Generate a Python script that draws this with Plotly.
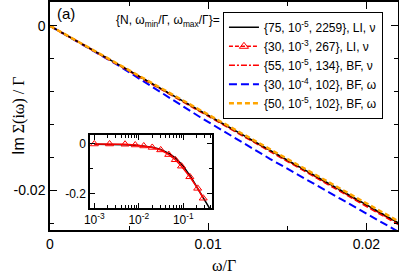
import plotly.graph_objects as go

# ---------------- data ----------------
omega = [0, 0.003, 0.0044, 0.0095, 0.0139, 0.0184, 0.0221]
im_li75 = [0, -0.00326, -0.00478, -0.01032, -0.01511, -0.02000, -0.02400]
im_li30 = [0, -0.00328, -0.00485, -0.01045, -0.01528, -0.02018, -0.02420]
im_bf55 = [0, -0.00327, -0.00482, -0.01040, -0.01522, -0.02010, -0.02412]
im_bf30 = [0, -0.00327, -0.00490, -0.01110, -0.01615, -0.02105, -0.02510]
im_bf50 = [0, -0.00324, -0.00472, -0.01020, -0.01497, -0.01982, -0.02382]

inset_w_line = [0.001, 0.002, 0.005, 0.01, 0.02, 0.03, 0.05, 0.07, 0.1, 0.15, 0.2, 0.3, 0.45]
inset_li75 = [-0.001, -0.001, -0.003, -0.006, -0.013, -0.021, -0.040, -0.060, -0.090, -0.136, -0.172, -0.224, -0.280]
inset_w_tri = [0.001, 0.0022, 0.0049, 0.0083, 0.0129, 0.020, 0.031, 0.047, 0.066, 0.091, 0.14, 0.21, 0.28]
inset_li30 = [0.0, 0.0, -0.001, -0.004, -0.008, -0.014, -0.024, -0.043, -0.064, -0.090, -0.133, -0.180, -0.220]

legend_labels = [
    "{75, 10<sup>-5</sup>, 2259}, LI, ν",
    "{30, 10<sup>-3</sup>, 267}, LI, ν",
    "{55, 10<sup>-5</sup>, 134}, BF, ν",
    "{30, 10<sup>-4</sup>, 102}, BF, ω",
    "{50, 10<sup>-5</sup>, 102}, BF, ω",
]

x_ticks = [0, 0.01, 0.02]
x_ticktext = ["0", "0.01", "0.02"]
y_ticks = [0, -0.02]
y_ticktext = ["0", "-0.02"]
ix_ticks = [1e-3, 1e-2, 1e-1]
ix_ticktext = ["10<sup>-3</sup>", "10<sup>-2</sup>", "10<sup>-1</sup>"]
ix_minor = [m * 10.0 ** e for e in (-3, -2, -1) for m in range(2, 10) if m * 10.0 ** e < 0.5]
iy_ticks = [0, -0.2]
iy_ticktext = ["0", "-0.2"]

BLACK = "#000000"
RED = "#FF0000"
BLUE = "#0000FF"
ORANGE = "#FFA500"
SANS = "Liberation Sans, Arial, sans-serif"
SERIF = "Liberation Serif, Times New Roman, serif"

fig = go.Figure()

# main panel
fig.add_trace(go.Scatter(x=omega, y=im_bf30, mode="lines", line=dict(color=BLUE, width=2, dash="8px,4px"),
                         name=legend_labels[3], legendrank=4))
fig.add_trace(go.Scatter(x=omega, y=im_li30, mode="lines", line=dict(color=RED, width=2, dash="6px,3px"),
                         showlegend=False))
fig.add_trace(go.Scatter(x=omega, y=im_bf55, mode="lines", line=dict(color=RED, width=1.5, dash="6px,2px,2px,2px"),
                         name=legend_labels[2], legendrank=3))
fig.add_trace(go.Scatter(x=omega, y=im_li75, mode="lines", line=dict(color=BLACK, width=1.5),
                         name=legend_labels[0], legendrank=1))
fig.add_trace(go.Scatter(x=omega, y=im_bf50, mode="lines", line=dict(color=ORANGE, width=2.5, dash="5px,3px"),
                         name=legend_labels[4], legendrank=5))
# legend entry for the LI 30 curve (line + open triangles)
fig.add_trace(go.Scatter(x=[None], y=[None], mode="lines+markers",
                         line=dict(color=RED, width=1.5, dash="4px,2px"),
                         marker=dict(symbol="triangle-up-open", size=8, color=RED, line=dict(width=1)),
                         name=legend_labels[1], legendrank=2))

# inset
fig.add_trace(go.Scatter(x=inset_w_line, y=inset_li75, mode="lines", line=dict(color=BLACK, width=1.5),
                         xaxis="x2", yaxis="y2", showlegend=False))
fig.add_trace(go.Scatter(x=inset_w_tri, y=inset_li30, mode="lines+markers",
                         line=dict(color=RED, width=1.5),
                         marker=dict(symbol="triangle-up-open", size=7, color=RED, line=dict(width=1)),
                         xaxis="x2", yaxis="y2", showlegend=False))

axis_common = dict(showline=True, linecolor=BLACK, linewidth=1.5, mirror="allticks",
                   ticks="inside", tickcolor=BLACK, showgrid=False, zeroline=False, automargin=False)

fig.update_layout(
    width=399, height=275,
    margin=dict(l=50, r=1, t=2, b=45, autoexpand=False),
    paper_bgcolor="white", plot_bgcolor="white",
    font=dict(family=SANS, color=BLACK, size=14),
    xaxis=dict(range=[0, 0.022], tickvals=x_ticks, ticktext=x_ticktext, ticklen=7, tickwidth=1,
               minor=dict(dtick=0.005, tick0=0, ticks="inside", ticklen=4, tickcolor=BLACK, showgrid=False),
               tickfont=dict(size=14), **axis_common),
    yaxis=dict(range=[-0.0248, 0.0029], tickvals=y_ticks, ticktext=y_ticktext, ticklen=7, tickwidth=1,
               minor=dict(dtick=0.004, tick0=0, ticks="inside", ticklen=4, tickcolor=BLACK, showgrid=False),
               tickfont=dict(size=14), **axis_common),
    xaxis2=dict(type="log", range=[-3.097, -0.362], domain=[0.115, 0.4647], anchor="y2",
                tickvals=ix_ticks, ticktext=ix_ticktext, ticklen=5, tickwidth=1,
                minor=dict(tickvals=ix_minor, ticks="inside", ticklen=3, tickcolor=BLACK, showgrid=False),
                tickfont=dict(size=12), **axis_common),
    yaxis2=dict(range=[-0.2596, 0.0365], domain=[0.0965, 0.4167], anchor="x2",
                tickvals=iy_ticks, ticktext=iy_ticktext, ticklen=5, tickwidth=1,
                minor=dict(tickvals=[-0.1], ticks="inside", ticklen=3, tickcolor=BLACK, showgrid=False),
                tickfont=dict(size=12), **axis_common),
    legend=dict(x=0.497, y=0.957, xanchor="left", yanchor="top",
                bordercolor=BLACK, borderwidth=1, bgcolor="white",
                font=dict(size=12, family=SANS), tracegroupgap=0),
    showlegend=True,
)

fig.add_annotation(xref="paper", yref="paper", x=0.5, y=-0.155, yanchor="middle", showarrow=False,
                   text="ω/Γ", font=dict(family=SERIF, size=16))
fig.add_annotation(xref="paper", yref="paper", x=-0.1207, y=0.5, textangle=-90, showarrow=False,
                   text='<span style="font-family:Liberation Sans">Im</span> Σ(iω) / Γ',
                   font=dict(family=SERIF, size=16))
fig.add_annotation(xref="paper", yref="paper", x=0.015, y=0.9496, xanchor="left", yanchor="middle",
                   showarrow=False, text="(a)", font=dict(family=SANS, size=15))
fig.add_annotation(xref="paper", yref="paper", x=0.494, y=0.9167, xanchor="right", yanchor="middle",
                   showarrow=False, text="{N, ω<sub>min</sub>/Γ, ω<sub>max</sub>/Γ}=",
                   font=dict(family=SANS, size=12))

fig.write_html("out.html", config={"displayModeBar": False},
               post_script="document.documentElement.style.margin='0';document.documentElement.style.padding='0';"
                           "document.body.style.margin='0';document.body.style.padding='0';")
